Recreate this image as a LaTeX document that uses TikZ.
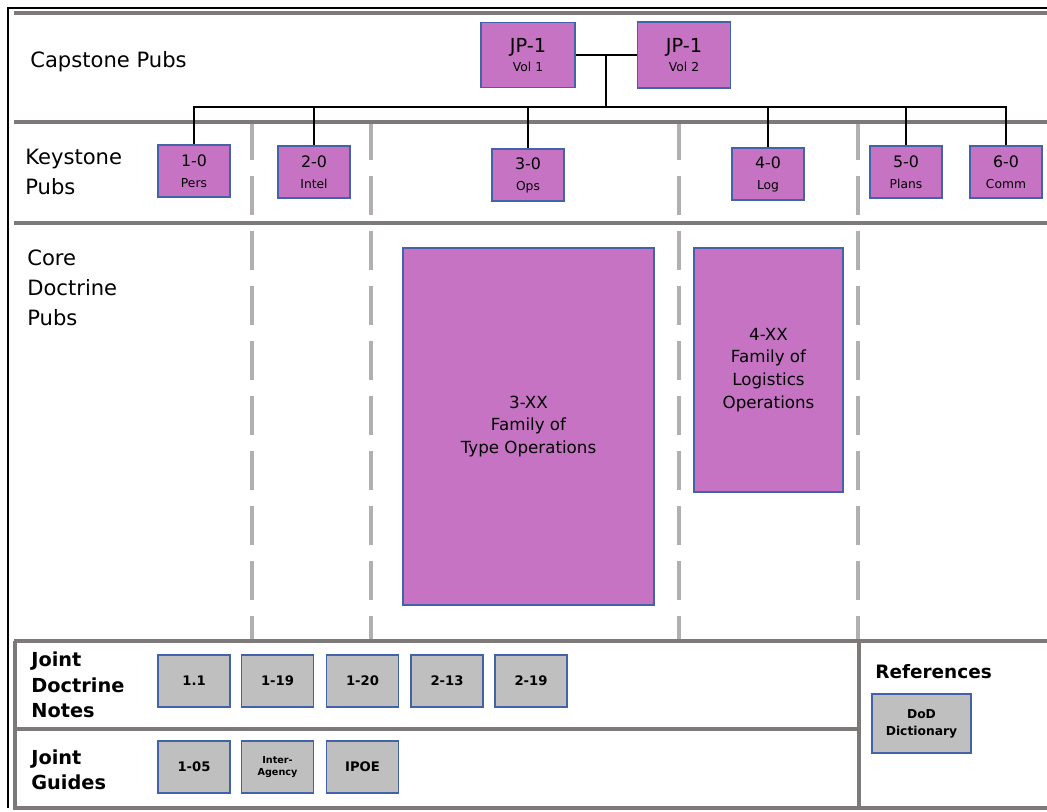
\documentclass[tikz,border=0pt]{standalone}
\usepackage{fontspec}
\setmainfont{DejaVu Sans}
\usetikzlibrary{calc}

\definecolor{pubpurple}{RGB}{198,115,195}
\definecolor{edgeblue}{RGB}{68,98,168}
\definecolor{notegray}{RGB}{191,191,191}
\definecolor{bandgray}{RGB}{125,121,121}
\definecolor{dashgray}{RGB}{178,175,175}

\tikzset{
  boxsize/.style 2 args={minimum width=#1*0.02cm, minimum height=#2*0.02cm},
  pub/.style={draw=edgeblue, fill=pubpurple, line width=1pt, inner sep=0pt, align=center},
  note/.style={draw=edgeblue, fill=notegray, line width=1pt, inner sep=0pt, align=center,
    font=\bfseries\fontsize{7.5}{9}\selectfont},
  band/.style={bandgray, line width=2.6pt},
  divider/.style={dashgray, line width=2.8pt, dash pattern=on 0.78cm off 0.32cm},
  link/.style={black, line width=1.1pt},
  rowlabel/.style={anchor=west, align=left, inner sep=0pt, font=\fontsize{12}{17}\selectfont},
  footlabel/.style={anchor=west, align=left, inner sep=0pt, font=\bfseries\fontsize{11}{14.5}\selectfont},
}
\newcommand{\captext}[2]{{\fontsize{11}{12}\selectfont #1}\\[-1pt]{\fontsize{7}{8}\selectfont #2}}
\newcommand{\keytext}[2]{{\fontsize{9}{10}\selectfont #1}\\[0pt]{\fontsize{7}{8}\selectfont #2}}

\begin{document}
\begin{tikzpicture}[x=0.02cm, y=-0.02cm]
  \useasboundingbox (0,0) rectangle (1047,811);

  % column dividers
  \foreach \x in {252,371,679,858}
    \draw[divider] (\x,121) -- (\x,641);

  % row bands and frame
  \draw[band] (14,13) -- (1047,13);
  \draw[band] (14,122) -- (1047,122);
  \draw[band] (14,223) -- (1047,223);
  \draw[band] (14,641) -- (1047,641);
  \draw[band] (15,641) -- (15,808) -- (1047,808);
  \draw[band] (859,641) -- (859,808);
  \draw[band] (15,729) -- (859,729);
  \draw[black, line width=1.6pt] (8,808) -- (8,8) -- (1047,8);

  % row labels
  \node[rowlabel] (capstone) at (30,62) {Capstone Pubs};
  \node[rowlabel] (keystone) at (25,172) {Keystone\\Pubs};
  \node[rowlabel] (core) at (27,288) {Core\\Doctrine\\Pubs};
  \node[footlabel] (jdn) at (31,685) {Joint\\Doctrine\\Notes};
  \node[footlabel] (guides) at (31,770) {Joint\\Guides};
  \node[footlabel, font=\bfseries\fontsize{10.5}{12}\selectfont] (refs) at (875,672) {References};

  % capstone
  \node[pub, boxsize={94}{65}] (vol1) at (528,55) {\captext{JP-1}{Vol 1}};
  \node[pub, boxsize={93}{66}] (vol2) at (684,55) {\captext{JP-1}{Vol 2}};

  % keystone
  \node[pub, boxsize={72}{52}] (pers) at (194,171) {\keytext{1-0}{Pers}};
  \node[pub, boxsize={72}{52}] (intel) at (314,172) {\keytext{2-0}{Intel}};
  \node[pub, boxsize={72}{52}] (ops) at (528,175) {\keytext{3-0}{Ops}};
  \node[pub, boxsize={72}{52}] (log) at (768,174) {\keytext{4-0}{Log}};
  \node[pub, boxsize={72}{52}] (plans) at (906,172) {\keytext{5-0}{Plans}};
  \node[pub, boxsize={72}{52}] (comm) at (1006,172) {\keytext{6-0}{Comm}};

  % connectors
  \coordinate (bus) at (606,107);
  \coordinate (jp) at ($(vol1.east)!0.5!(vol2.west)$);
  \draw[link] (vol1.east) -- (vol2.west);
  \draw[link] (jp) -- (jp |- bus);
  \draw[link] (pers.north) |- (bus) -| (comm.north);
  \foreach \k in {intel,ops,log,plans}
    \draw[link] (\k.north |- bus) -- (\k.north);

  % core doctrine
  \node[pub, boxsize={251}{357}, font=\fontsize{9.5}{13}\selectfont] (typeops) at (528.5,426.5)
    {3-XX\\Family of\\Type Operations};
  \node[pub, boxsize={149}{244}, font=\fontsize{9.5}{13}\selectfont] (logops) at (768.5,370)
    {4-XX\\Family of\\Logistics\\Operations};

  % joint doctrine notes
  \node[note, boxsize={72}{52}] (n11) at (194,681) {1.1};
  \node[note, boxsize={72}{52}] (n119) at (277.5,681) {1-19};
  \node[note, boxsize={72}{52}] (n120) at (362.5,681) {1-20};
  \node[note, boxsize={72}{52}] (n213) at (447,681) {2-13};
  \node[note, boxsize={72}{52}] (n219) at (531,681) {2-19};

  % joint guides
  \node[note, boxsize={72}{52}] (g105) at (194,767) {1-05};
  \node[note, boxsize={72}{52}, font=\bfseries\fontsize{5.5}{7}\selectfont] (ginter) at (277.5,767) {Inter-\\Agency};
  \node[note, boxsize={72}{52}] (gipoe) at (362.5,767) {IPOE};

  % references
  \node[note, boxsize={99}{59}, font=\bfseries\fontsize{7}{9.5}\selectfont] (dod) at (921.5,723.5) {DoD\\Dictionary};
\end{tikzpicture}
\end{document}
